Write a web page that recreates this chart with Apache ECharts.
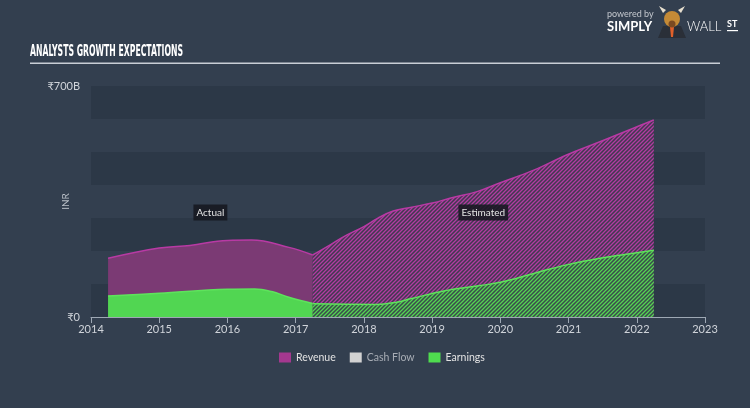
<!DOCTYPE html>
<html><head><meta charset="utf-8">
<script src="https://cdn.jsdelivr.net/npm/echarts@6/dist/echarts.min.js"></script>
<style>html,body{margin:0;padding:0;background:#333f4f;} #c{width:750px;height:408px;}</style>
</head><body><div id="c"></div>
<script>
// ---- data (year, INR billions) ----
const xTicks = [2014, 2015, 2016, 2017, 2018, 2019, 2020, 2021, 2022, 2023];
const yTickLabels = { 0: '₹0', 700: '₹700B' };
const legendNames = ['Revenue', 'Cash Flow', 'Earnings'];
const revenueActual = [[2014.25,178],[2015.0,209],[2015.45,217],[2016.0,232],[2016.35,233],[2016.9,211],[2017.25,188]];
const revenueEstimated = [[2017.25,188],[2017.5,218],[2017.7,243],[2018.0,274],[2018.2,299],[2018.43,321],[2018.68,332],[2019.02,346],[2019.26,360],[2019.66,380],[2020.0,407],[2020.49,445],[2020.97,491],[2021.46,531],[2021.95,572],[2022.25,597]];
const earningsActual = [[2014.25,64],[2015.0,72],[2016.0,84],[2016.4,85],[2016.65,77],[2016.9,60],[2017.25,41]];
const earningsEstimated = [[2017.25,40],[2018.19,38],[2018.48,45],[2018.68,55],[2019.17,79],[2019.66,94],[2020.0,105],[2020.49,132],[2020.97,158],[2021.46,178],[2021.95,193],[2022.25,202]];
const cashFlow = [];
const labelActual = [2015.75, 317];
const labelEstimated = [2019.75, 317];

function makePattern(bg, fg){
  const s = 4, c = document.createElement('canvas'); c.width = s; c.height = s;
  const g = c.getContext('2d'); g.fillStyle = bg; g.fillRect(0,0,s,s);
  g.strokeStyle = fg; g.lineWidth = 1.3; g.beginPath();
  g.moveTo(0,s); g.lineTo(s,0);
  g.moveTo(-1,1); g.lineTo(1,-1);
  g.moveTo(s-1,s+1); g.lineTo(s+1,s-1);
  g.stroke();
  return c;
}
const revPattern = { image: makePattern('#413850', '#b23ca2'), repeat: 'repeat' };
const earnPattern = { image: makePattern('#3a4b4c', '#55d452'), repeat: 'repeat' };

const titleFont = 'bold 16px "Liberation Sans Narrow", "DejaVu Sans Condensed", sans-serif';
const mc = document.createElement('canvas').getContext('2d'); mc.font = titleFont;
const titleText = 'ANALYSTS GROWTH EXPECTATIONS';
const titleScale = 153 / mc.measureText(titleText).width;

const FONT = 'Lato, "Noto Sans", sans-serif';
const boxLabel = {
  show: true, position: 'inside', color: '#e4e4e4', fontSize: 10, fontFamily: FONT,
  backgroundColor: 'rgba(22,24,32,0.88)', padding: [3, 3, 3, 3]
};

const chart = echarts.init(document.getElementById('c'));
chart.setOption({
  backgroundColor: '#333f4f',
  animation: false,
  grid: { left: 91, right: 45, top: 86, bottom: 91 },
  xAxis: {
    type: 'value', min: 2014, max: 2023, interval: 1,
    axisLine: { lineStyle: { color: '#9ea8b4', width: 1 } },
    axisTick: { show: true, length: 6, lineStyle: { color: '#9ea8b4' } },
    axisLabel: { color: '#d0d4da', fontSize: 11, fontFamily: FONT, margin: 7,
      formatter: v => xTicks.indexOf(v) >= 0 ? String(v) : '' },
    splitLine: { show: false }
  },
  yAxis: {
    type: 'value', min: 0, max: 700, interval: 100,
    name: 'INR', nameLocation: 'middle', nameGap: 20, nameRotate: 90, nameMoveOverlap: false,
    nameTextStyle: { color: '#b8bec6', fontSize: 10, fontFamily: FONT },
    axisLine: { show: false }, axisTick: { show: false },
    axisLabel: { color: '#d0d4da', fontSize: 11, fontFamily: FONT, margin: 11,
      formatter: v => yTickLabels[v] !== undefined ? yTickLabels[v] : '' },
    splitLine: { show: false },
    splitArea: { show: true, areaStyle: { color: ['rgba(20,28,40,0.2)', 'rgba(0,0,0,0)'] } }
  },
  legend: {
    left: 274, top: 347, itemWidth: 12, itemHeight: 10, itemGap: 14, icon: 'rect',
    textStyle: { color: '#e2e2e2', fontSize: 10.5, fontFamily: FONT },
    data: [
      { name: legendNames[0], itemStyle: { color: '#a4388f' } },
      { name: legendNames[1], itemStyle: { color: '#d2d2d2' }, textStyle: { color: '#a8adb5' } },
      { name: legendNames[2], itemStyle: { color: '#4fdc4f' } }
    ]
  },
  series: [
    { name: 'Revenue', type: 'line', data: revenueActual, smooth: 0.4, symbol: 'none',
      lineStyle: { color: '#b83aa4', width: 1.5 }, itemStyle: { color: '#a4388f' },
      areaStyle: { color: '#7b3a74', opacity: 1 },
      markPoint: { symbol: 'rect', symbolSize: 1, itemStyle: { color: 'rgba(0,0,0,0)' },
        label: boxLabel, data: [{ coord: labelActual, value: 'Actual' }] } },
    { name: 'Revenue', type: 'line', data: revenueEstimated, smooth: 0.4, symbol: 'none',
      lineStyle: { color: '#b83aa4', width: 1.5 }, itemStyle: { color: '#a4388f' },
      areaStyle: { color: revPattern, opacity: 1 },
      markPoint: { symbol: 'rect', symbolSize: 1, itemStyle: { color: 'rgba(0,0,0,0)' },
        label: boxLabel, data: [{ coord: labelEstimated, value: 'Estimated' }] } },
    { name: 'Cash Flow', type: 'line', data: cashFlow, symbol: 'none', itemStyle: { color: '#d2d2d2' } },
    { name: 'Earnings', type: 'line', data: earningsActual, smooth: 0.4, symbol: 'none',
      lineStyle: { color: '#5ee35c', width: 1.5 }, itemStyle: { color: '#4fdc4f' },
      areaStyle: { color: '#51d652', opacity: 1 } },
    { name: 'Earnings', type: 'line', data: earningsEstimated, smooth: 0.4, symbol: 'none',
      lineStyle: { color: '#5ee35c', width: 1.5 }, itemStyle: { color: '#4fdc4f' },
      areaStyle: { color: earnPattern, opacity: 1 } }
  ],
  graphic: [
    { type: 'text', x: 30, y: 52, scaleX: titleScale, originX: 0,
      style: { text: titleText, font: titleFont, fill: '#ffffff', verticalAlign: 'middle' } },
    { type: 'rect', shape: { x: 30, y: 62.5, width: 690, height: 1.5 }, style: { fill: '#c9ced6' } },
    { type: 'text', x: 607, y: 14, style: { text: 'powered by', font: '9px ' + FONT, fill: '#c4c8ce', verticalAlign: 'middle' } },
    { type: 'text', x: 607, y: 27, style: { text: 'SIMPLY', font: 'bold 13px ' + FONT, fill: '#ffffff', verticalAlign: 'middle' } },
    { type: 'polygon', shape: { points: [[663,26],[681,26],[686,38],[658,38]] }, style: { fill: '#2a2f38' } },
    { type: 'polygon', shape: { points: [[670,27],[674,27],[673,37],[671,37]] }, style: { fill: '#e0602a' } },
    { type: 'polygon', shape: { points: [[663,13],[659,6],[666,10]] }, style: { fill: '#e8e0d0' } },
    { type: 'polygon', shape: { points: [[681,13],[685,6],[678,10]] }, style: { fill: '#e8e0d0' } },
    { type: 'circle', shape: { cx: 672, cy: 19, r: 8 }, style: { fill: '#c48a36' } },
    { type: 'circle', shape: { cx: 672, cy: 24, r: 3.5 }, style: { fill: '#7a4a22' } },
    { type: 'text', x: 687, y: 27, style: { text: 'WALL', font: '300 13px ' + FONT, fill: '#ffffff', verticalAlign: 'middle' } },
    { type: 'text', x: 727, y: 24, style: { text: 'ST', font: 'bold 9px ' + FONT, fill: '#ffffff', verticalAlign: 'middle' } },
    { type: 'rect', shape: { x: 727, y: 30, width: 11, height: 1.2 }, style: { fill: '#ffffff' } }
  ]
});
</script></body></html>
